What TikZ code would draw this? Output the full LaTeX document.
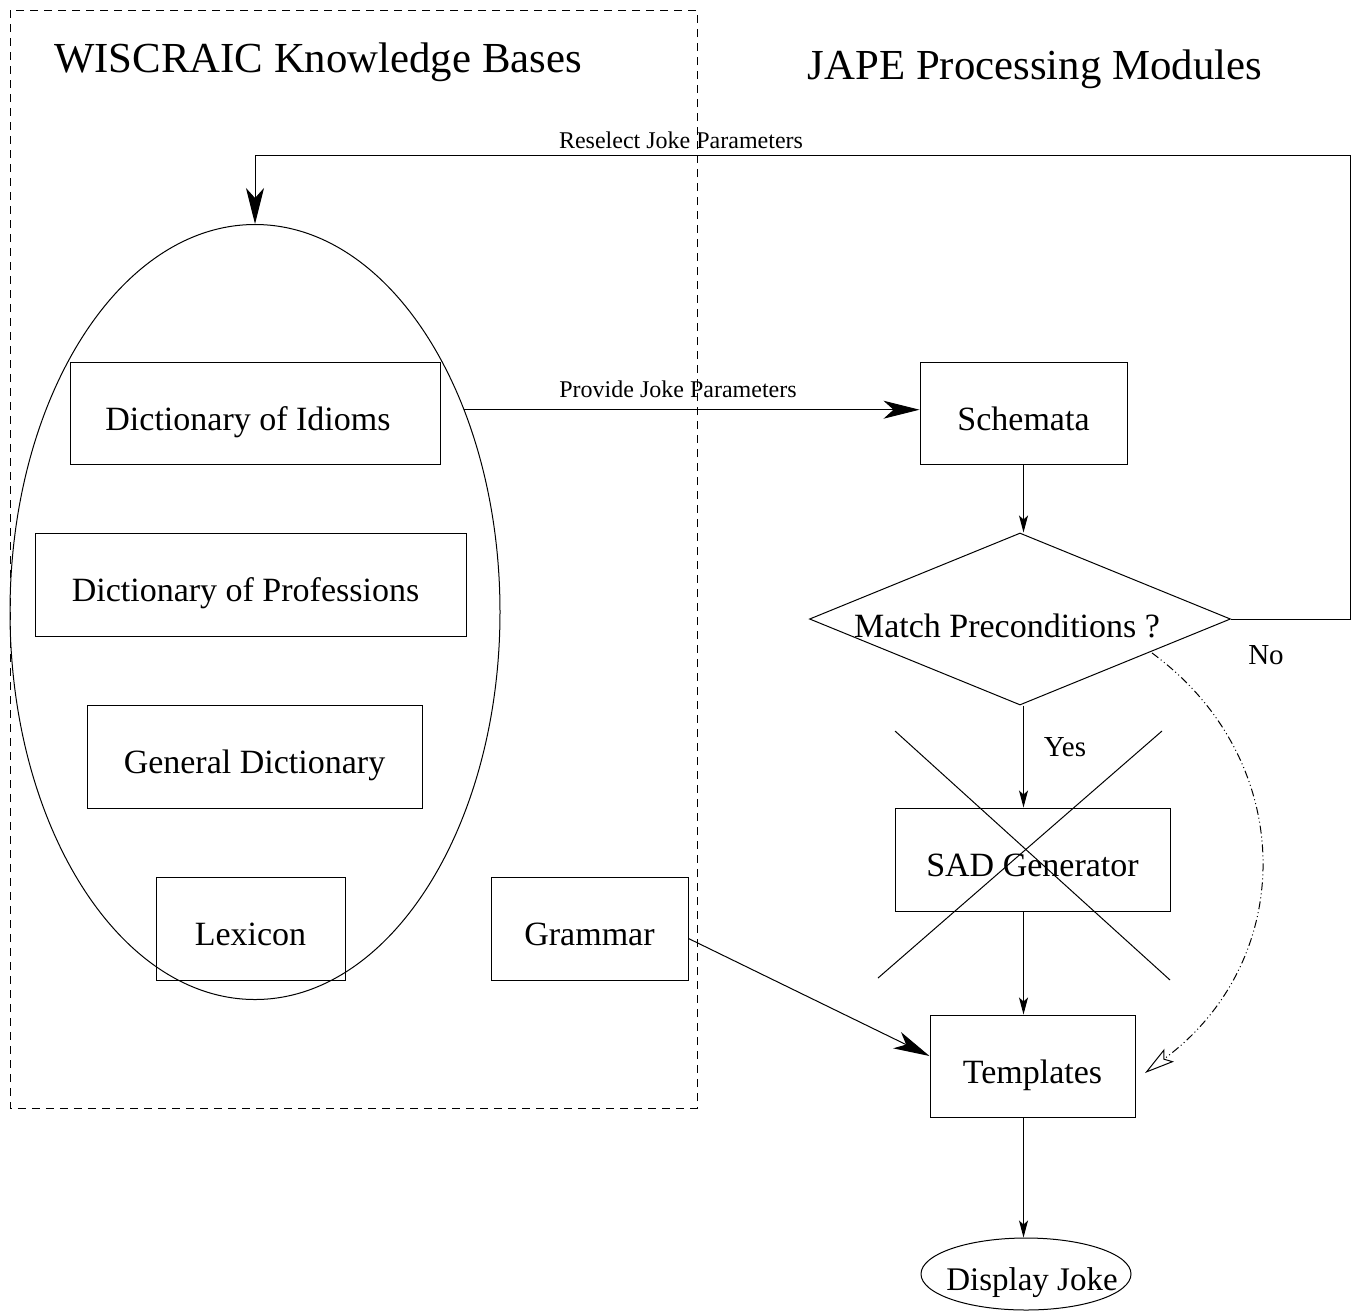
\documentclass[tikz,border=0pt]{standalone}
\usepackage{fontspec}
\setmainfont{Liberation Serif}
\usetikzlibrary{arrows.meta,shapes.geometric}
\begin{document}
\begin{tikzpicture}[x=0.5pt,y=-0.5pt,line width=0.5pt,
  box/.style={draw, rectangle, inner sep=0pt, font=\fontsize{17}{20}\selectfont, text height=17pt, text depth=0pt},
  title/.style={font=\fontsize{21.4}{25}\selectfont, inner sep=0pt},
  small/.style={font=\fontsize{12}{14}\selectfont, inner sep=0pt},
  mid/.style={font=\fontsize{14.5}{17}\selectfont, inner sep=0pt},
  bigarrow/.style={-{Stealth[length=18pt,width=9pt,inset=5pt]}},
  smallarrow/.style={-{Stealth[length=8.5pt,width=4.5pt,inset=2pt]}},
  openarrow/.style={-{Stealth[open,length=15pt,width=8pt,inset=3pt]}},
  dashdotdot/.style={dash pattern=on 4pt off 1.5pt on 0.5pt off 1.5pt on 0.5pt off 1.5pt}
]
\useasboundingbox (0,0) rectangle (1359,1312);

% dashed frame
\draw[dash pattern=on 4pt off 3pt] (10,10) rectangle (697,1108);

% titles
\node[title] (t1) at (318,62) {WISCRAIC Knowledge Bases};
\node[title] (t2) at (1035,69) {JAPE Processing Modules};

% knowledge base ellipse
\node[draw, ellipse, minimum width=245pt, minimum height=387.5pt, inner sep=0pt] (kb) at (255,612) {};

\node[box, minimum width=185pt, minimum height=51pt] (idioms) at (255,413) {\hspace{-7pt}Dictionary of Idioms};
\node[box, minimum width=215.5pt, minimum height=51.5pt] (prof) at (250.5,584.5) {\hspace{-5pt}Dictionary of Professions};
\node[box, minimum width=167.5pt, minimum height=51.5pt] (gen) at (254.5,756.5) {General Dictionary};
\node[box, minimum width=94.5pt, minimum height=51.5pt] (lex) at (250.5,928.5) {Lexicon};
\node[box, minimum width=98.5pt, minimum height=51.5pt] (gram) at (589.5,928.5) {Grammar};

% processing modules
\node[box, minimum width=103.5pt, minimum height=51pt] (schem) at (1023.5,413) {Schemata};
\node[draw, diamond, aspect=2.45, minimum width=210.5pt, minimum height=86pt, inner sep=0pt] (match) at (1020,619) {};
\node[font=\fontsize{17}{20}\selectfont, inner sep=0pt, text height=17pt, text depth=0pt] (matcht) at (1007,620) {Match Preconditions ?};
\node[box, minimum width=137.5pt, minimum height=51.5pt] (sad) at (1032.5,859.5) {SAD Generator};
\node[box, minimum width=102.5pt, minimum height=51pt] (tmpl) at (1032.5,1066) {Templates};
\node[draw, ellipse, minimum width=105pt, minimum height=36pt, inner sep=0pt] (disp) at (1026,1274) {};
\node[font=\fontsize{16.5}{20}\selectfont, inner sep=0pt, text height=17pt, text depth=0pt] (dispt) at (1032,1273) {Display Joke};

% cross over SAD generator
\draw (895,731) -- (1170,980);
\draw (1162,731) -- (878,978);

% connectors
\draw[bigarrow] (kb.44) -- (kb.44 -| schem.west);
\node[small] (lp) at (678,389) {Provide Joke Parameters};

\coordinate (rc) at (1350,155);
\draw[bigarrow] (match.east) -| (rc) -| (kb.north);
\node[small] (lr) at (681,140) {Reselect Joke Parameters};

\draw[smallarrow] (schem.south) -- (schem.south |- match.north);
\draw[smallarrow] (match.south -| schem) -- (sad.north -| schem);
\draw[smallarrow] (sad.south -| schem) -- (tmpl.north -| schem);
\draw[smallarrow] (tmpl.south -| schem) -- (disp.north -| schem);

\draw[bigarrow] ([yshift=-5pt]gram.east) -- ([yshift=5pt]tmpl.west);

\coordinate (d1) at (1152,653);
\coordinate (d2) at (1145,1073);
\draw[dashdotdot, openarrow] (d1) .. controls (1298,760) and (1298,960) .. (d2);

\node[mid] (yes) at (1065,747) {Yes};
\node[mid] (no) at (1266,655) {No};
\end{tikzpicture}
\end{document}
